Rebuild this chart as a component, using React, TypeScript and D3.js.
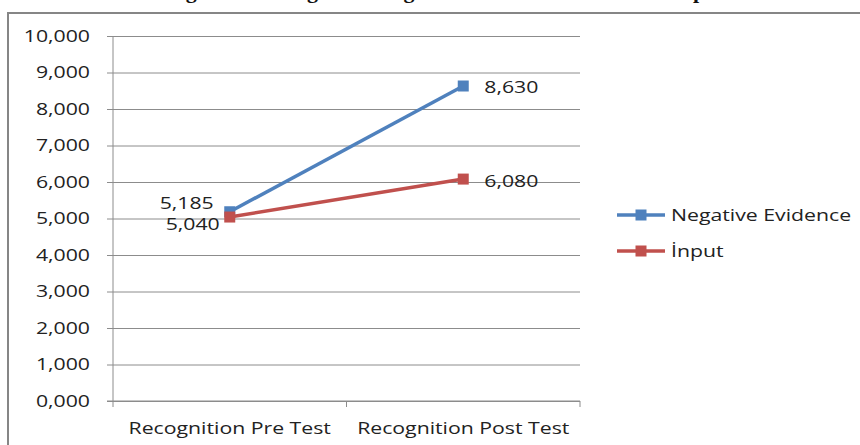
import { useRef, useEffect } from "react";
import * as d3 from "d3";

const categories = ["Recognition Pre Test", "Recognition Post Test"];
const negativeEvidence = [5.185, 8.63];
const input = [5.04, 6.08];
const seriesNames = ["Negative Evidence", "İnput"];
const yTicks = [0, 1, 2, 3, 4, 5, 6, 7, 8, 9, 10];
const titleText = "Figure 2. Change in Recognition Test Scores of the Groups";

// Turkish style: comma as decimal separator
const fmt = (v: number) => d3.format(".3f")(v).replace(".", ",");

const SX = 1.25; // the source chart's text is horizontally stretched

export default function App() {
  const svgRef = useRef<SVGSVGElement>(null);

  useEffect(() => {
    if (!svgRef.current) return;
    const svg = d3.select(svgRef.current);
    svg.selectAll("*").remove();

    const width = 860;
    const height = 445;
    const font = "'Open Sans', sans-serif";

    svg.attr("width", width).attr("height", height);
    svg.append("rect").attr("width", width).attr("height", height).attr("fill", "#fff");

    // cut-off document caption above the chart frame
    svg
      .append("text")
      .attr("x", 440)
      .attr("y", -2)
      .attr("text-anchor", "middle")
      .attr("font-family", "'Liberation Serif', serif")
      .attr("font-weight", "bold")
      .attr("font-size", "22px")
      .attr("fill", "#111")
      .text(titleText);

    // chart frame
    svg
      .append("rect")
      .attr("x", 8)
      .attr("y", 13)
      .attr("width", 900)
      .attr("height", 500)
      .attr("fill", "#fff")
      .attr("stroke", "#868686")
      .attr("stroke-width", 2);

    const left = 113;
    const right = 580;
    const top = 36;
    const bottom = 401;

    const x = d3.scaleBand<string>().domain(categories).range([left, right]);
    const y = d3.scaleLinear().domain([0, 10]).range([bottom, top]);

    const addText = (
      tx: number,
      ty: number,
      str: string,
      anchor = "start"
    ) =>
      svg
        .append("text")
        .attr("transform", `translate(${tx},${ty}) scale(${SX},1)`)
        .attr("text-anchor", anchor)
        .attr("fill", "#222")
        .attr("font-family", font)
        .attr("font-size", "17px")
        .text(str);

    // gridlines + y ticks
    const yAxis = svg
      .append("g")
      .attr("transform", `translate(${left},0)`)
      .call(
        d3
          .axisLeft(y)
          .tickValues(yTicks)
          .tickSize(-(right - left))
          .tickFormat((d) => fmt(d as number))
      );
    yAxis.select(".domain").remove();
    yAxis.selectAll(".tick line").attr("stroke", "#8c8c8c").attr("x1", -6);
    yAxis
      .selectAll(".tick text")
      .attr("x", -23 / SX)
      .attr("transform", `scale(${SX},1)`)
      .attr("fill", "#222")
      .attr("font-family", font)
      .attr("font-size", "17px");

    // y axis line
    svg
      .append("line")
      .attr("x1", left)
      .attr("x2", left)
      .attr("y1", top)
      .attr("y2", bottom)
      .attr("stroke", "#8c8c8c");

    // x axis
    svg
      .append("line")
      .attr("x1", left - 6)
      .attr("x2", right)
      .attr("y1", bottom)
      .attr("y2", bottom)
      .attr("stroke", "#8c8c8c");
    const bounds = [...categories.map((c) => x(c) ?? 0), right];
    svg
      .selectAll(".xtick")
      .data(bounds)
      .join("line")
      .attr("x1", (d) => d)
      .attr("x2", (d) => d)
      .attr("y1", bottom)
      .attr("y2", bottom + 6)
      .attr("stroke", "#8c8c8c");
    categories.forEach((c) =>
      addText((x(c) ?? 0) + x.bandwidth() / 2, 434, c, "middle")
    );

    const series = [
      { name: seriesNames[0], values: negativeEvidence, color: "#4F81BD" },
      { name: seriesNames[1], values: input, color: "#C0504D" },
    ];
    const cx = (i: number) => (x(categories[i]) ?? 0) + x.bandwidth() / 2;

    const line = d3
      .line<number>()
      .x((_, i) => cx(i))
      .y((d) => y(d));

    series.forEach((s) => {
      svg
        .append("path")
        .datum(s.values)
        .attr("fill", "none")
        .attr("stroke", s.color)
        .attr("stroke-width", 3.5)
        .attr("d", line);
      svg
        .selectAll(null)
        .data(s.values)
        .join("rect")
        .attr("x", (_, i) => cx(i) - 5.5)
        .attr("y", (d) => y(d) - 5.5)
        .attr("width", 11)
        .attr("height", 11)
        .attr("fill", s.color);
    });

    // data labels
    addText(cx(0) - 16, y(negativeEvidence[0]) - 3, fmt(negativeEvidence[0]), "end");
    addText(cx(0) - 10, y(input[0]) + 13, fmt(input[0]), "end");
    addText(cx(1) + 21, y(negativeEvidence[1]) + 7, fmt(negativeEvidence[1]));
    addText(cx(1) + 21, y(input[1]) + 8, fmt(input[1]));

    // legend
    series.forEach((s, i) => {
      const ly = 215 + i * 36;
      svg
        .append("line")
        .attr("x1", 617)
        .attr("x2", 665)
        .attr("y1", ly)
        .attr("y2", ly)
        .attr("stroke", s.color)
        .attr("stroke-width", 3.5);
      svg
        .append("rect")
        .attr("x", 641 - 5.5)
        .attr("y", ly - 5.5)
        .attr("width", 11)
        .attr("height", 11)
        .attr("fill", s.color);
      addText(671, ly + 6, s.name);
    });
  }, []);

  return (
    <svg
      ref={svgRef}
      style={{ position: "absolute", left: 0, top: 0, display: "block" }}
    />
  );
}
